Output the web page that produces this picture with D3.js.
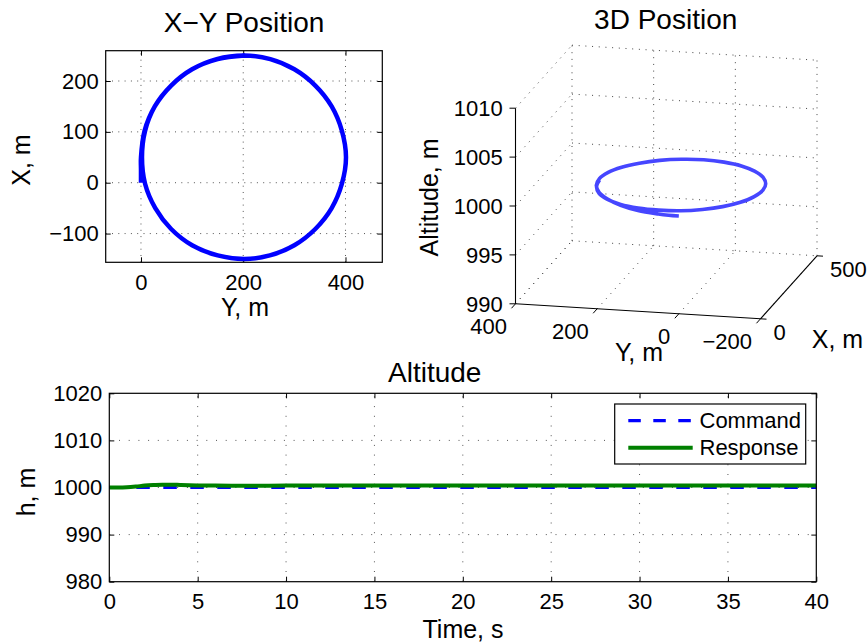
<!DOCTYPE html>
<html>
<head>
<meta charset="utf-8">
<script src="https://cdn.jsdelivr.net/npm/d3@7"></script>
<style>
  body { margin: 0; background: #fff; }
  svg { display: block; font-family: "Liberation Sans", Arial, Helvetica, sans-serif; }
</style>
</head>
<body>
<svg width="868" height="644"></svg>
<script>
// trajectory (metres), plus altitude along it
var trajY = [0, 0, 0, 7, 27, 59, 100, 148, 202, 253, 300, 341, 373, 393, 401, 393, 373, 341, 300, 252,
             202, 150, 100, 59, 28, 8, 2, 8, 27, 59, 100, 150, 203];
var trajX = [0, 25, 50, 102, 150, 191, 223, 243, 250, 243, 223, 191, 150, 102, 50, -2, -50, -91, -123, -143,
             -150, -143, -123, -91, -50, -2, 50, 102, 150, 191, 223, 243, 250];
var trajH = [1000, 1000.02, 1000.08, 1000.2, 1000.35, 1000.48, 1000.56, 1000.6, 1000.6, 1000.58, 1000.55,
             1000.52, 1000.5, 1000.48, 1000.46, 1000.45, 1000.44, 1000.43, 1000.42, 1000.42, 1000.42,
             1000.42, 1000.43, 1000.43, 1000.44, 1000.44, 1000.45, 1000.45, 1000.45, 1000.45, 1000.45,
             1000.45, 1000.45];

// altitude time history
var cmdT = [0, 40];
var cmdH = [1000, 1000];
var respT = [0, 0.5, 1, 1.5, 2, 2.5, 3, 3.5, 4, 5, 6, 8, 10, 15, 20, 25, 30, 35, 40];
var respH = [1000, 1000, 1000.05, 1000.2, 1000.4, 1000.52, 1000.6, 1000.6, 1000.55, 1000.45, 1000.4,
             1000.38, 1000.4, 1000.42, 1000.44, 1000.45, 1000.45, 1000.45, 1000.45];

// tick values
var xyXTicks = [0, 200, 400];
var xyYTicks = [-100, 0, 100, 200];
var frontTicks = [400, 200, 0, -200];
var depthTicks = [0, 500];
var altTicks3 = [990, 995, 1000, 1005, 1010];
var tTicks = [0, 5, 10, 15, 20, 25, 30, 35, 40];
var hTicks = [980, 990, 1000, 1010, 1020];

var svg = d3.select("svg");
svg.append("rect").attr("width", 868).attr("height", 644).attr("fill", "#fff");

var TICK = 22, LABEL = 25, TITLE = 28;
var fmt = d3.format("d");

function frame(g, x, y, xt, yt, dots) {
    var x0 = x.range()[0], x1 = x.range()[1], y0 = y.range()[0], y1 = y.range()[1];
    var grid = g.append("g").attr("stroke", "#555").attr("stroke-width", 1).attr("stroke-dasharray", dots);
    grid.selectAll(".gx").data(xt.filter(function(d){ return x(d) > x0 + 1 && x(d) < x1 - 1; }))
        .join("line").attr("x1", function(d){ return x(d); }).attr("x2", function(d){ return x(d); })
        .attr("y1", y0).attr("y2", y1);
    grid.selectAll(".gy").data(yt.filter(function(d){ return y(d) < y0 - 1 && y(d) > y1 + 1; }))
        .join("line").attr("y1", function(d){ return y(d); }).attr("y2", function(d){ return y(d); })
        .attr("x1", x0).attr("x2", x1);

    function style(a) {
        a.select(".domain").remove();
        a.attr("font-size", TICK).attr("font-family", null);
    }
    g.append("g").attr("transform", "translate(0," + y0 + ")")
        .call(d3.axisBottom(x).tickValues(xt).tickFormat(fmt).tickSize(-5).tickSizeOuter(0).tickPadding(12)).call(style);
    g.append("g").attr("transform", "translate(0," + y1 + ")")
        .call(d3.axisTop(x).tickValues(xt).tickSize(-5).tickSizeOuter(0).tickFormat("")).call(style);
    g.append("g").attr("transform", "translate(" + x0 + ",0)")
        .call(d3.axisLeft(y).tickValues(yt).tickFormat(fmt).tickSize(-5).tickSizeOuter(0).tickPadding(7)).call(style);
    g.append("g").attr("transform", "translate(" + x1 + ",0)")
        .call(d3.axisRight(y).tickValues(yt).tickSize(-5).tickSizeOuter(0).tickFormat("")).call(style);
}

function border(g, x, y) {
    g.append("rect").attr("x", x.range()[0]).attr("y", y.range()[1])
        .attr("width", x.range()[1] - x.range()[0]).attr("height", y.range()[0] - y.range()[1])
        .attr("fill", "none").attr("stroke", "#000").attr("stroke-width", 1.2);
}

function text(g, s, x, y, size, rot) {
    var t = g.append("text").attr("text-anchor", "middle").attr("font-size", size).text(s);
    if (rot) t.attr("transform", "translate(" + x + "," + y + ") rotate(-90)");
    else t.attr("x", x).attr("y", y);
    return t;
}

// ---------- X-Y position ----------
var gxy = svg.append("g");
var xyX = d3.scaleLinear().domain([-69, 472]).range([105.7, 382.3]);
var xyY = d3.scaleLinear().domain([-156.5, 259.6]).range([262.3, 50.7]);
frame(gxy, xyX, xyY, xyXTicks, xyYTicks, "1,5.3");
var trajIdx = d3.range(trajX.length);
gxy.append("path").datum(trajIdx)
    .attr("fill", "none").attr("stroke", "#0000ff").attr("stroke-width", 4.5)
    .attr("d", d3.line().curve(d3.curveCatmullRom.alpha(0.5))
        .x(function(i){ return xyX(trajY[i]); }).y(function(i){ return xyY(trajX[i]); }));
border(gxy, xyX, xyY);
text(gxy, "X\u2212Y Position", 244, 32.3, TITLE);
text(gxy, "Y, m", 245, 315.7, LABEL);
text(gxy, "X, m", 29.6, 160, LABEL, true);

// ---------- 3D position ----------
var g3 = svg.append("g");
var fS = d3.scaleLinear().domain([400, -200]).range([0, 1]);
var dS = d3.scaleLinear().domain([0, 500]).range([0, 1]);
var aS = d3.scaleLinear().domain([990, 1010]).range([0, 1]);
var O = [515.5, 303.8], F = [245, 15], D = [56.5, -63], A = [0, -195.6];
function proj(f, d, a) {
    var u = fS(f), v = dS(d), w = aS(a);
    return [O[0] + u * F[0] + v * D[0] + w * A[0], O[1] + u * F[1] + v * D[1] + w * A[1]];
}
var segs = [];
// back wall
frontTicks.forEach(function(f){ segs.push([proj(f, 500, 990), proj(f, 500, 1010)]); });
altTicks3.forEach(function(a){ segs.push([proj(400, 500, a), proj(-200, 500, a)]); });
// left wall
altTicks3.forEach(function(a){ segs.push([proj(400, 0, a), proj(400, 500, a)]); });
// floor
frontTicks.forEach(function(f){ segs.push([proj(f, 0, 990), proj(f, 500, 990)]); });
g3.append("g").attr("stroke", "#444").attr("stroke-width", 1).attr("stroke-dasharray", "1,5.7")
    .selectAll("line").data(segs).join("line")
    .attr("x1", function(s){ return s[0][0]; }).attr("y1", function(s){ return s[0][1]; })
    .attr("x2", function(s){ return s[1][0]; }).attr("y2", function(s){ return s[1][1]; });

// solid axes
var axes = [
    [proj(400, 0, 990), proj(400, 0, 1010)],
    [proj(400, 0, 990), proj(-200, 0, 990)],
    [proj(-200, 0, 990), proj(-200, 500, 990)]
];
g3.append("g").attr("stroke", "#000").attr("stroke-width", 1.1)
    .selectAll("line").data(axes).join("line")
    .attr("x1", function(s){ return s[0][0]; }).attr("y1", function(s){ return s[0][1]; })
    .attr("x2", function(s){ return s[1][0]; }).attr("y2", function(s){ return s[1][1]; });

var ticks3 = g3.append("g").attr("stroke", "#000").attr("stroke-width", 1);
var tl = g3.append("g").attr("font-size", TICK);
var dn = Math.hypot(D[0], D[1]), fn = Math.hypot(F[0], F[1]);
altTicks3.forEach(function(a){
    var p = proj(400, 0, a);
    ticks3.append("line").attr("x1", p[0]).attr("y1", p[1]).attr("x2", p[0] - 6).attr("y2", p[1]);
    tl.append("text").attr("text-anchor", "end").attr("x", 502.7).attr("y", p[1]).attr("dy", "0.35em").text(fmt(a));
});
frontTicks.forEach(function(f){
    var p = proj(f, 0, 990);
    ticks3.append("line").attr("x1", p[0]).attr("y1", p[1])
        .attr("x2", p[0] - 6 * D[0] / dn).attr("y2", p[1] - 6 * D[1] / dn);
    tl.append("text").attr("text-anchor", "end").attr("x", p[0] - 8.5).attr("y", p[1] + 22)
        .attr("dy", "0.35em").text(fmt(f));
});
depthTicks.forEach(function(d){
    var p = proj(-200, d, 990);
    ticks3.append("line").attr("x1", p[0]).attr("y1", p[1])
        .attr("x2", p[0] + 6 * F[0] / fn).attr("y2", p[1] + 6 * F[1] / fn);
    tl.append("text").attr("text-anchor", "start").attr("x", p[0] + 13).attr("y", p[1] + 13.5)
        .attr("dy", "0.35em").text(fmt(d));
});

g3.append("path").datum(trajIdx)
    .attr("fill", "none").attr("stroke", "#4646ff").attr("stroke-width", 3.6)
    .attr("d", d3.line().curve(d3.curveCatmullRom.alpha(0.5))
        .x(function(i){ return proj(trajX[i], trajY[i], trajH[i])[0]; })
        .y(function(i){ return proj(trajX[i], trajY[i], trajH[i])[1]; }));

text(g3, "3D Position", 665.7, 29.3, TITLE);
text(g3, "Altitude, m", 438, 197.5, LABEL, true);
text(g3, "Y, m", 639, 361, LABEL);
text(g3, "X, m", 837.5, 348, LABEL);

// ---------- Altitude ----------
var ga = svg.append("g");
var tX = d3.scaleLinear().domain([0, 40]).range([109.3, 816.3]);
var hY = d3.scaleLinear().domain([980, 1020]).range([581.7, 393.3]);
frame(ga, tX, hY, tTicks, hTicks, "1,8.7");

ga.append("path").datum(d3.range(cmdT.length))
    .attr("fill", "none").attr("stroke", "#0000ff").attr("stroke-width", 3.2).attr("stroke-dasharray", "13.5,13.5")
    .attr("d", d3.line().x(function(i){ return tX(cmdT[i]); }).y(function(i){ return hY(cmdH[i]); }));
ga.append("path").datum(d3.range(respT.length))
    .attr("fill", "none").attr("stroke", "#008000").attr("stroke-width", 4)
    .attr("d", d3.line().curve(d3.curveMonotoneX)
        .x(function(i){ return tX(respT[i]); }).y(function(i){ return hY(respH[i]); }));
border(ga, tX, hY);

var lg = ga.append("g");
lg.append("rect").attr("x", 614.7).attr("y", 404).attr("width", 191).attr("height", 60)
    .attr("fill", "#fff").attr("stroke", "#000").attr("stroke-width", 1.2);
lg.append("line").attr("x1", 628.3).attr("x2", 692.7).attr("y1", 420.7).attr("y2", 420.7)
    .attr("stroke", "#0000ff").attr("stroke-width", 3.2).attr("stroke-dasharray", "12.5,12.5");
lg.append("line").attr("x1", 628.3).attr("x2", 692.7).attr("y1", 447.7).attr("y2", 447.7)
    .attr("stroke", "#008000").attr("stroke-width", 4);
lg.append("text").attr("x", 699.5).attr("y", 428.3).attr("font-size", TICK).text("Command");
lg.append("text").attr("x", 699.5).attr("y", 455.3).attr("font-size", TICK).text("Response");

text(ga, "Altitude", 434.7, 381.7, TITLE);
text(ga, "Time, s", 463, 637.7, LABEL);
text(ga, "h, m", 35, 492, LABEL, true);
</script>
</body>
</html>
